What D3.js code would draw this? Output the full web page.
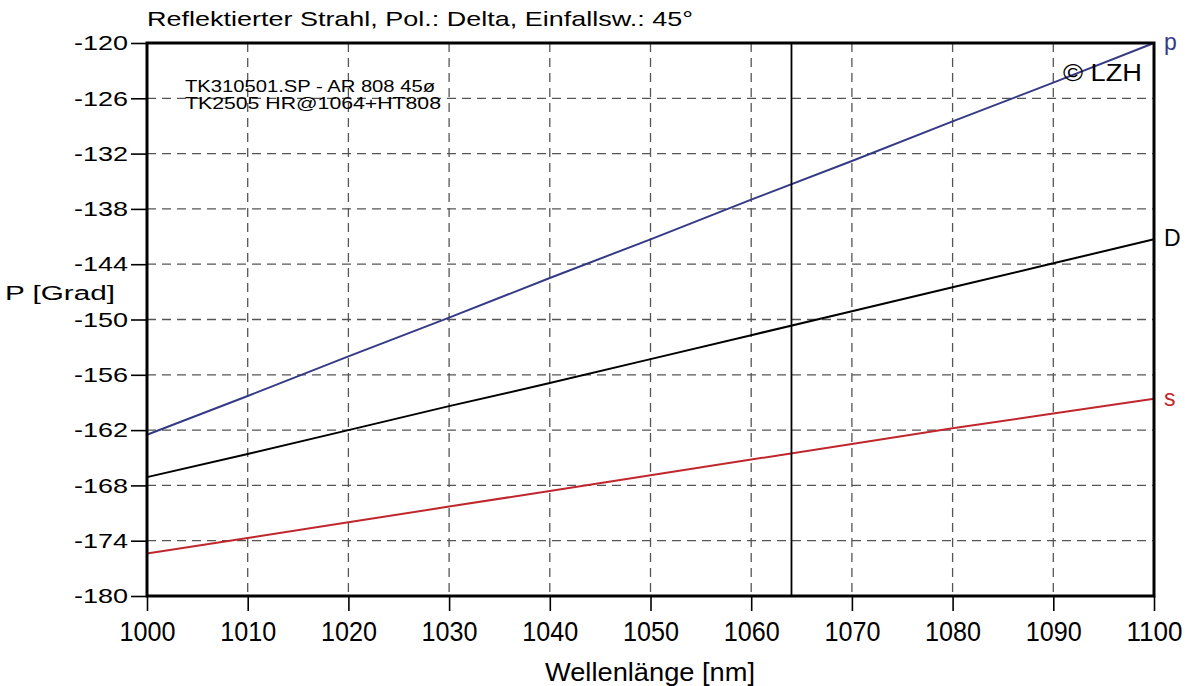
<!DOCTYPE html>
<html lang="de">
<head>
<meta charset="UTF-8">
<title>Reflektierter Strahl</title>
<style>
	body { margin: 0; background: #fff; }
	svg text { font-family: "Liberation Sans", Arial, sans-serif; }
</style>
</head>
<body>
<svg id="cont" width="1187" height="686"></svg>
<script src="https://cdn.jsdelivr.net/npm/d3@7"></script>
<script>
	// wavelengths in nm
	const wave = [1000, 1010, 1020, 1030, 1040, 1050, 1060, 1070, 1080, 1090, 1100];
	const pVals = [-162.5, -158.3, -154.0, -149.8, -145.5, -141.3, -137.0, -132.8, -128.5, -124.3, -120.0];
	const dVals = [-167.1, -164.6, -162.0, -159.4, -156.9, -154.3, -151.7, -149.1, -146.5, -143.9, -141.3];
	const sVals = [-175.4, -173.7, -172.0, -170.3, -168.6, -166.9, -165.2, -163.5, -161.8, -160.2, -158.6];
	const yTicks = [-120, -126, -132, -138, -144, -150, -156, -162, -168, -174, -180];
	const xTicks = wave;
	const markerX = 1064;

	const series = [
		{name: "p", vals: pVals, color: "#353a86"},
		{name: "D", vals: dVals, color: "#000000"},
		{name: "s", vals: sVals, color: "#c0272d"}
	];

	const mLeft = 147, mRight = 1154, mTop = 43, mBottom = 596;
	const svg = d3.select("#cont");

	let x = d3.scaleLinear().domain([1000, 1100]).range([mLeft, mRight]);
	let y = d3.scaleLinear().domain([-180, -120]).range([mBottom, mTop]);

	// grid
	svg.append("g").selectAll("line")
		.data(yTicks.slice(1, -1))
		.join("line")
		.attr("x1", mLeft).attr("x2", mRight)
		.attr("y1", d => y(d)).attr("y2", d => y(d))
		.attr("stroke", "#555").attr("stroke-width", 1.3)
		.attr("stroke-dasharray", "9,6");
	svg.append("g").selectAll("line")
		.data(xTicks.slice(1, -1))
		.join("line")
		.attr("y1", mTop).attr("y2", mBottom)
		.attr("x1", d => x(d)).attr("x2", d => x(d))
		.attr("stroke", "#555").attr("stroke-width", 1.3)
		.attr("stroke-dasharray", "9,6");

	// axes
	let yaxis = d3.axisLeft(y).tickValues(yTicks).tickSize(16).tickPadding(3).tickFormat(d => d);
	svg.append("g")
		.attr("transform", `translate(${mLeft},0)`)
		.call(yaxis)
		.call(g => g.select(".domain").remove())
		.call(g => g.selectAll("text").attr("font-size", 21).attr("fill", "#000")
			.attr("font-family", "Liberation Sans, Arial, sans-serif")
			.attr("textLength", 54).attr("lengthAdjust", "spacingAndGlyphs"))
		.call(g => g.selectAll("line").attr("stroke", "#000").attr("stroke-width", 1.6));

	let xaxis = d3.axisBottom(x).tickValues(xTicks).tickSize(15).tickPadding(11).tickFormat(d => d);
	svg.append("g")
		.attr("transform", `translate(0,${mBottom})`)
		.call(xaxis)
		.call(g => g.select(".domain").remove())
		.call(g => g.selectAll("text").attr("font-size", 27).attr("fill", "#000")
			.attr("font-family", "Liberation Sans, Arial, sans-serif")
			.attr("textLength", 56).attr("lengthAdjust", "spacingAndGlyphs"))
		.call(g => g.selectAll("line").attr("stroke", "#000").attr("stroke-width", 1.6));

	// curves
	let line = d3.line().x((d, i) => x(wave[i])).y(d => y(d));
	series.forEach(s => {
		svg.append("path")
			.attr("d", line(s.vals))
			.attr("fill", "none")
			.attr("stroke", s.color)
			.attr("stroke-width", 2);
		svg.append("text")
			.attr("x", mRight + 10)
			.attr("y", y(s.vals[s.vals.length - 1]) + 7)
			.attr("font-size", 23)
			.attr("fill", s.color)
			.text(s.name);
	});

	// marker at 1064 nm
	svg.append("line")
		.attr("x1", x(markerX)).attr("x2", x(markerX))
		.attr("y1", mTop).attr("y2", mBottom)
		.attr("stroke", "#000").attr("stroke-width", 1.8);

	// frame
	svg.append("rect")
		.attr("x", mLeft).attr("y", mTop)
		.attr("width", mRight - mLeft).attr("height", mBottom - mTop)
		.attr("fill", "none").attr("stroke", "#000").attr("stroke-width", 3);

	// texts
	function label(tx, ty, size, len, str, anchor) {
		return svg.append("text").attr("x", tx).attr("y", ty).attr("font-size", size)
			.attr("text-anchor", anchor || "start")
			.attr("textLength", len).attr("lengthAdjust", "spacingAndGlyphs")
			.text(str);
	}
	label(147, 26, 21, 546, "Reflektierter Strahl, Pol.: Delta, Einfallsw.: 45°");
	label(185, 92, 16, 250, "TK310501.SP - AR 808 45ø");
	label(185, 109, 16, 256, "TK2505 HR@1064+HT808");
	label(1063, 81, 23, 79, "© LZH");
	label(5, 300, 20, 110, "P [Grad]");
	label(545, 681, 25, 210, "Wellenlänge [nm]");
</script>
</body>
</html>
